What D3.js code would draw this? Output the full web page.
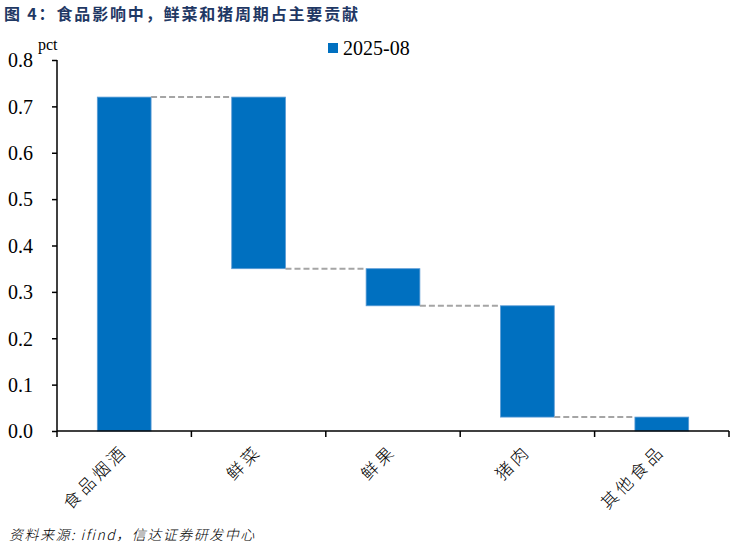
<!DOCTYPE html>
<html><head><meta charset="utf-8">
<script src="https://cdn.jsdelivr.net/npm/d3@7"></script>
<style>
body{margin:0;background:#fff;}
svg{display:block;}
.ytick text{font-family:'Liberation Serif','Times New Roman',serif !important;font-size:20px;}
</style></head>
<body>
<svg id="chart" width="731" height="549"></svg>
<script>
const categories = ["食品烟酒","鲜菜","鲜果","猪肉","其他食品"];
const changes = [0.72, -0.37, -0.08, -0.24, -0.03];
const yTicks = [0.0,0.1,0.2,0.3,0.4,0.5,0.6,0.7,0.8];
const seriesName = "2025-08";
const titleText = "图 4：食品影响中，鲜菜和猪周期占主要贡献";
const sourceText = "资料来源: ifind，信达证券研发中心";

// build waterfall segments
let cum = 0;
const segs = categories.map((c,i)=>{
  const start = cum; cum += changes[i];
  return {cat:c, start, end:cum};
});

const svg = d3.select("#chart");
const x = d3.scaleBand().domain(categories).range([57, 729]).paddingInner(0).paddingOuter(0);
const y = d3.scaleLinear().domain([0,0.8]).range([431, 60]);

// title
svg.append("text").attr("x",4).attr("y",20)
  .attr("font-family","'Noto Sans CJK SC'").attr("font-weight","bold")
  .attr("font-size",16).attr("letter-spacing",1.85).attr("fill","#1F3864")
  .text(titleText);

// bars
const bw = x.bandwidth()*0.4;
svg.append("g").selectAll("rect").data(segs).join("rect")
  .attr("x", d=>x(d.cat)+x.bandwidth()/2-bw/2)
  .attr("width", bw)
  .attr("y", d=>y(Math.max(d.start,d.end)))
  .attr("height", d=>Math.abs(y(d.start)-y(d.end)))
  .attr("fill","#0070C0").attr("stroke","#5B9BD5").attr("stroke-width",0.8);

// connectors
svg.append("g").selectAll("line").data(segs.slice(0,-1)).join("line")
  .attr("x1",(d)=>x(d.cat)+x.bandwidth()/2+bw/2)
  .attr("x2",(d,i)=>x(categories[i+1])+x.bandwidth()/2-bw/2)
  .attr("y1",d=>y(d.end)).attr("y2",d=>y(d.end))
  .attr("stroke","#A5A5A5").attr("stroke-width",2).attr("stroke-dasharray","6,3");

// y axis
const yAxis = d3.axisLeft(y).tickValues(yTicks).tickFormat(d3.format(".1f")).tickSize(5).tickPadding(19);
const gy = svg.append("g").attr("class","ytick").attr("transform","translate(57,0)").call(yAxis);
gy.attr("font-family","Liberation Serif").attr("font-size",20);
gy.select(".domain").attr("stroke","#000").attr("stroke-width",1.5).attr("d","M0,60V431");
gy.selectAll(".tick line").attr("stroke","#000").attr("stroke-width",1.5);
gy.selectAll(".tick text").attr("font-family","Liberation Serif").attr("fill","#000").attr("dy","0.34em");

// x axis
const xAxis = d3.axisBottom(x).tickSize(0).tickFormat("");
const gx = svg.append("g").attr("transform","translate(0,431)").call(xAxis);
gx.select(".domain").attr("stroke","#000").attr("stroke-width",1.5).attr("d","M57,0H729");
const bounds = categories.map(c=>x(c)).concat([x(categories[categories.length-1])+x.bandwidth()]);
gx.selectAll(".btick").data(bounds).join("line").attr("class","btick")
  .attr("x1",d=>d).attr("x2",d=>d).attr("y1",0).attr("y2",6)
  .attr("stroke","#000").attr("stroke-width",1.5);
// labels
svg.append("g").selectAll("text").data(categories).join("text")
  .attr("transform",d=>`translate(${x(d)+x.bandwidth()/2+1},${449}) rotate(-45)`)
  .attr("text-anchor","end").attr("dominant-baseline","middle")
  .attr("font-family","'Noto Sans CJK SC'").attr("font-weight",300)
  .attr("font-size",17).attr("letter-spacing",3.5).attr("fill","#000")
  .text(d=>d);

// pct unit
svg.append("text").attr("x",38).attr("y",50).attr("font-family","Liberation Serif")
  .attr("font-size",16).attr("fill","#000").text("pct");

// legend
svg.append("rect").attr("x",328).attr("y",43).attr("width",10).attr("height",10).attr("fill","#0070C0");
svg.append("text").attr("x",343).attr("y",55).attr("font-family","Liberation Serif")
  .attr("font-size",20).attr("fill","#000").text(seriesName);

// source
svg.append("text").attr("x",9).attr("y",540).attr("font-family","'Noto Sans CJK SC'")
  .attr("font-style","italic").attr("font-weight",300).attr("font-size",14).attr("letter-spacing",1.5).attr("fill","#000")
  .text(sourceText);
</script>
</body></html>
